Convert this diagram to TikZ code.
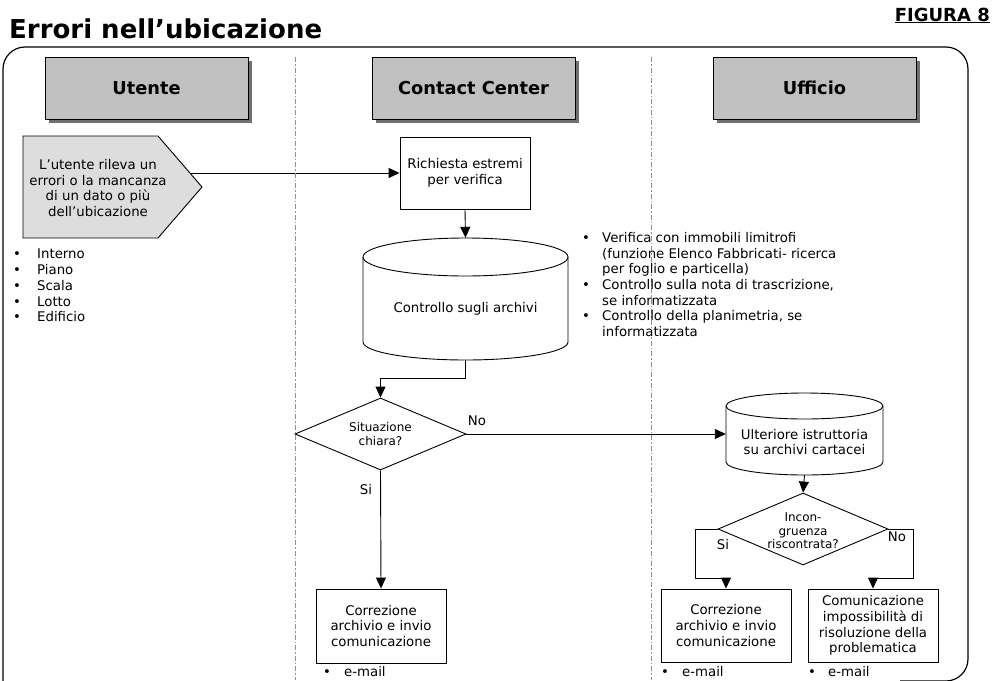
\documentclass[tikz,border=0pt]{standalone}
\usepackage{fontspec}
\setmainfont{DejaVu Sans}
\usetikzlibrary{arrows.meta,backgrounds,shapes.geometric}
\definecolor{hdrgray}{HTML}{C0C0C0}
\definecolor{shgray}{HTML}{707070}
\definecolor{pentgray}{HTML}{DDDDDD}
\definecolor{lanegray}{HTML}{909090}
\begin{document}
\begin{tikzpicture}[x=1pt,y=-1pt,
  font=\fontsize{13.3}{15.7}\selectfont,
  box/.style={draw, line width=0.9pt, fill=white, inner sep=0pt, align=center},
  arr/.style={-{Triangle[length=11pt,width=10pt]}, line width=0.9pt},
  lane/.style={draw=lanegray, line width=1pt, dash pattern=on 5pt off 2pt on 1.5pt off 2pt},
  hdr/.style={draw, line width=1pt, fill=hdrgray, minimum width=203pt, minimum height=62pt, inner sep=0pt, font=\bfseries\fontsize{17.8}{20}\selectfont},
  shp/.style={line width=0.9pt, draw, fill=white},
  dia/.style={diamond, draw, line width=0.9pt, fill=white, inner sep=0pt, align=center, font=\fontsize{12}{14.5}\selectfont},
  lbl/.style={inner sep=0pt},
  bul/.style={inner sep=0pt, align=left, anchor=north west}]
\useasboundingbox (0,0) rectangle (995,680);

% title
\node[lbl, anchor=base west, font=\bfseries\fontsize{26}{28}\selectfont] (title) at (9,38) {Errori nell’ubicazione};
\node[lbl, anchor=base east, font=\bfseries\fontsize{18}{20}\selectfont] (fig) at (990,21) {\underline{FIGURA 8}};

% frame
\draw[line width=1.2pt, rounded corners=22pt] (3,720) -- (3,47) -- (968,47) -- (968,681) -- (900,681);
% lanes
\draw[lane] (295,57) -- (295,680);
\draw[lane] (651,57) -- (651,680);

% headers
\fill[shgray] (49,61) rectangle (252,123);
\node[hdr] (hu) at (146.5,88) {Utente};
\fill[shgray] (376,61) rectangle (579,123);
\node[hdr] (hc) at (473.5,88) {Contact Center};
\fill[shgray] (717,61) rectangle (920,123);
\node[hdr] (ho) at (814.5,88) {Ufficio};

% pentagon
\node[lbl, minimum width=135pt, minimum height=102pt] (pent) at (90.5,187) {};
\draw[line width=0.9pt, fill=pentgray] (23,136) -- (158,136) -- (202,187) -- (158,238) -- (23,238) -- cycle;
\node[lbl, align=center] (pentt) at (98,188) {L’utente rileva un\\errori o la mancanza\\di un dato o più\\dell’ubicazione};

\node[bul] (ulist) at (13,249) {\makebox[24pt][l]{•}Interno\\\makebox[24pt][l]{•}Piano\\\makebox[24pt][l]{•}Scala\\\makebox[24pt][l]{•}Lotto\\\makebox[24pt][l]{•}Edificio};

% contact center
\node[box, minimum width=130pt, minimum height=72pt] (rich) at (465,173) {Richiesta estremi\\per verifica};
\begin{scope}[on background layer]
\draw[arr] (pent.center |- rich.west) -- (rich.west);
\end{scope}

\node[lbl, minimum width=205pt, minimum height=122pt] (cyl1) at (465.5,299) {};
\draw[shp] (363,257) -- (363,342) arc[start angle=180,end angle=360,x radius=102.5pt,y radius=18pt] -- (568,257) arc[start angle=0,end angle=180,x radius=102.5pt,y radius=19pt] -- cycle;
\draw[line width=0.9pt] (363,257) arc[start angle=180,end angle=360,x radius=102.5pt,y radius=19pt];
\node[lbl] (cyl1t) at (465.5,309) {Controllo sugli archivi};

\node[bul] (vlist) at (582,232) {\makebox[20pt][l]{•}Verifica con immobili limitrofi\\\hspace*{20pt}(funzione Elenco Fabbricati- ricerca\\\hspace*{20pt}per foglio e particella)\\\makebox[20pt][l]{•}Controllo sulla nota di trascrizione,\\\hspace*{20pt}se informatizzata\\\makebox[20pt][l]{•}Controllo della planimetria, se\\\hspace*{20pt}informatizzata};

\node[dia, minimum width=171pt, minimum height=72pt, aspect=2.375] (d1) at (380.5,434) {Situazione\\chiara?};

\node[box, minimum width=130pt, minimum height=74pt] (corr1) at (381,626) {Correzione\\archivio e invio\\comunicazione};
\node[lbl, anchor=west] (em1) at (323,672) {\makebox[21pt][l]{•}e-mail};

% ufficio
\node[lbl, minimum width=157pt, minimum height=82pt] (cyl2) at (804.5,434) {};
\draw[shp] (726,406) -- (726,462) arc[start angle=180,end angle=360,x radius=78.5pt,y radius=13pt] -- (883,406) arc[start angle=0,end angle=180,x radius=78.5pt,y radius=13pt] -- cycle;
\draw[line width=0.9pt] (726,406) arc[start angle=180,end angle=360,x radius=78.5pt,y radius=13pt];
\node[lbl, align=center] (cyl2t) at (804.5,442) {Ulteriore istruttoria\\su archivi cartacei};

\node[dia, minimum width=170pt, minimum height=72pt, aspect=2.36] (d2) at (803,529) {};
\node[lbl, align=center, font=\fontsize{12}{13.5}\selectfont] (d2t) at (803,531) {Incon-\\gruenza\\riscontrata?};

\node[box, minimum width=130pt, minimum height=73pt] (corr2) at (726,625.5) {Correzione\\archivio e invio\\comunicazione};
\node[box, minimum width=130pt, minimum height=73pt] (comm) at (873,625.5) {Comunicazione\\impossibilità di\\risoluzione della\\problematica};
\node[lbl, anchor=west] (em2) at (661,672) {\makebox[21pt][l]{•}e-mail};
\node[lbl, anchor=west] (em3) at (808,672) {\makebox[20pt][l]{•}e-mail};

% connectors
\draw[arr] (rich.south) -- (cyl1.north);
\draw[arr] (cyl1.south) -- ++(0,18) -| (d1.north);
\draw[arr] (d1.east) -- (cyl2.west);
\node[lbl] (no1) at (477,421) {No};
\draw[arr] (d1.south) -- (corr1.north);
\node[lbl] (si1) at (366,490) {Si};
\draw[arr] (cyl2.south) -- (d2.north);
\coordinate (e1) at (695,578);
\coordinate (e2) at (913,578);
\draw[arr] (d2.west) -| (e1) -| (corr2.north);
\draw[arr] (d2.east) -| (e2) -| (comm.north);
\node[lbl] (si2) at (723,545) {Si};
\node[lbl] (no2) at (897,537) {No};
\end{tikzpicture}
\end{document}
